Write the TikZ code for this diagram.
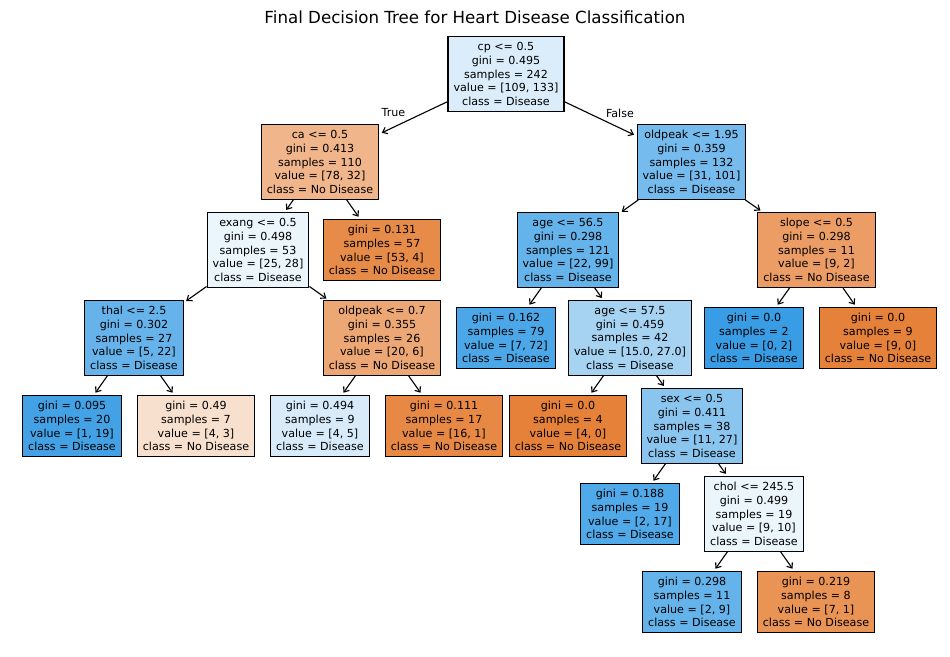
\documentclass[tikz,border=0pt]{standalone}
\usepackage{fontspec}
\setmainfont{DejaVu Sans}
\usetikzlibrary{arrows.meta}
\definecolor{cRoot}{RGB}{219,237,250}
\definecolor{cCa}{RGB}{240,181,138}
\definecolor{cOldA}{RGB}{118,187,237}
\definecolor{cExang}{RGB}{234,245,252}
\definecolor{cLa}{RGB}{231,139,72}
\definecolor{cAgeA}{RGB}{101,179,235}
\definecolor{cSlope}{RGB}{235,157,101}
\definecolor{cThal}{RGB}{102,179,235}
\definecolor{cOldB}{RGB}{237,167,116}
\definecolor{cLb}{RGB}{76,167,232}
\definecolor{cAgeB}{RGB}{167,211,243}
\definecolor{cBlue}{RGB}{57,157,229}
\definecolor{cOrange}{RGB}{229,129,57}
\definecolor{cLc}{RGB}{67,162,230}
\definecolor{cLd}{RGB}{248,224,206}
\definecolor{cLe}{RGB}{215,235,250}
\definecolor{cLf}{RGB}{231,137,69}
\definecolor{cSex}{RGB}{138,197,240}
\definecolor{cLg}{RGB}{80,169,232}
\definecolor{cChol}{RGB}{235,245,252}
\definecolor{cLh}{RGB}{101,179,235}
\definecolor{cLi}{RGB}{233,147,85}
\begin{document}
\begin{tikzpicture}[x=0.72pt,y=-0.72pt,
  tn/.style={draw=black, line width=0.75pt, inner xsep=4pt, inner ysep=4pt,
    align=center, font=\fontsize{8}{9.9}\selectfont},
  conn/.style={-{Straight Barb[length=3.2pt,width=5pt]}, line width=0.8pt, shorten >=2pt},
  lbl/.style={font=\fontsize{8}{9.9}\selectfont, inner sep=0pt}]
\useasboundingbox (0,0) rectangle (950,656);
\node[font=\fontsize{12}{14}\selectfont, inner sep=0pt] (title) at (475,17) {Final Decision Tree for Heart Disease Classification};

\node[tn, fill=cRoot] (root) at (506,74) {cp <= 0.5\\gini = 0.495\\samples = 242\\value = [109, 133]\\class = Disease};
\node[tn, fill=cCa] (ca) at (320,162) {ca <= 0.5\\gini = 0.413\\samples = 110\\value = [78, 32]\\class = No Disease};
\node[tn, fill=cOldA] (oldA) at (691.5,162) {oldpeak <= 1.95\\gini = 0.359\\samples = 132\\value = [31, 101]\\class = Disease};
\node[tn, fill=cExang] (exang) at (258,250) {exang <= 0.5\\gini = 0.498\\samples = 53\\value = [25, 28]\\class = Disease};
\node[tn, fill=cLa] (la) at (382,250) {gini = 0.131\\samples = 57\\value = [53, 4]\\class = No Disease};
\node[tn, fill=cAgeA] (ageA) at (568,250) {age <= 56.5\\gini = 0.298\\samples = 121\\value = [22, 99]\\class = Disease};
\node[tn, fill=cSlope] (slope) at (816.5,250) {slope <= 0.5\\gini = 0.298\\samples = 11\\value = [9, 2]\\class = No Disease};
\node[tn, fill=cThal] (thal) at (134,338) {thal <= 2.5\\gini = 0.302\\samples = 27\\value = [5, 22]\\class = Disease};
\node[tn, fill=cOldB] (oldB) at (382,338) {oldpeak <= 0.7\\gini = 0.355\\samples = 26\\value = [20, 6]\\class = No Disease};
\node[tn, fill=cLb] (lb) at (506,338) {gini = 0.162\\samples = 79\\value = [7, 72]\\class = Disease};
\node[tn, fill=cAgeB] (ageB) at (630,338) {age <= 57.5\\gini = 0.459\\samples = 42\\value = [15.0, 27.0]\\class = Disease};
\node[tn, fill=cBlue] (lslA) at (754,338) {gini = 0.0\\samples = 2\\value = [0, 2]\\class = Disease};
\node[tn, fill=cOrange] (lslB) at (878,338) {gini = 0.0\\samples = 9\\value = [9, 0]\\class = No Disease};
\node[tn, fill=cLc] (lc) at (72,426) {gini = 0.095\\samples = 20\\value = [1, 19]\\class = Disease};
\node[tn, fill=cLd] (ld) at (196,426) {gini = 0.49\\samples = 7\\value = [4, 3]\\class = No Disease};
\node[tn, fill=cLe] (le) at (320,426) {gini = 0.494\\samples = 9\\value = [4, 5]\\class = Disease};
\node[tn, fill=cLf] (lf) at (444,426) {gini = 0.111\\samples = 17\\value = [16, 1]\\class = No Disease};
\node[tn, fill=cOrange] (lage) at (568,426) {gini = 0.0\\samples = 4\\value = [4, 0]\\class = No Disease};
\node[tn, fill=cSex] (sex) at (692,426) {sex <= 0.5\\gini = 0.411\\samples = 38\\value = [11, 27]\\class = Disease};
\node[tn, fill=cLg] (lg) at (630,514) {gini = 0.188\\samples = 19\\value = [2, 17]\\class = Disease};
\node[tn, fill=cChol] (chol) at (754,514) {chol <= 245.5\\gini = 0.499\\samples = 19\\value = [9, 10]\\class = Disease};
\node[tn, fill=cLh] (lh) at (692,602) {gini = 0.298\\samples = 11\\value = [2, 9]\\class = Disease};
\node[tn, fill=cLi] (li) at (816,602) {gini = 0.219\\samples = 8\\value = [7, 1]\\class = No Disease};

\draw[conn] (root) -- (ca);
\draw[conn] (root) -- (oldA);
\node[lbl] (ltrue) at (393.5,113) {True};
\node[lbl] (lfalse) at (620,113) {False};
\draw[conn] (ca) -- (exang);
\draw[conn] (ca) -- (la);
\draw[conn] (oldA) -- (ageA);
\draw[conn] (oldA) -- (slope);
\draw[conn] (exang) -- (thal);
\draw[conn] (exang) -- (oldB);
\draw[conn] (ageA) -- (lb);
\draw[conn] (ageA) -- (ageB);
\draw[conn] (slope) -- (lslA);
\draw[conn] (slope) -- (lslB);
\draw[conn] (thal) -- (lc);
\draw[conn] (thal) -- (ld);
\draw[conn] (oldB) -- (le);
\draw[conn] (oldB) -- (lf);
\draw[conn] (ageB) -- (lage);
\draw[conn] (ageB) -- (sex);
\draw[conn] (sex) -- (lg);
\draw[conn] (sex) -- (chol);
\draw[conn] (chol) -- (lh);
\draw[conn] (chol) -- (li);
\end{tikzpicture}
\end{document}
